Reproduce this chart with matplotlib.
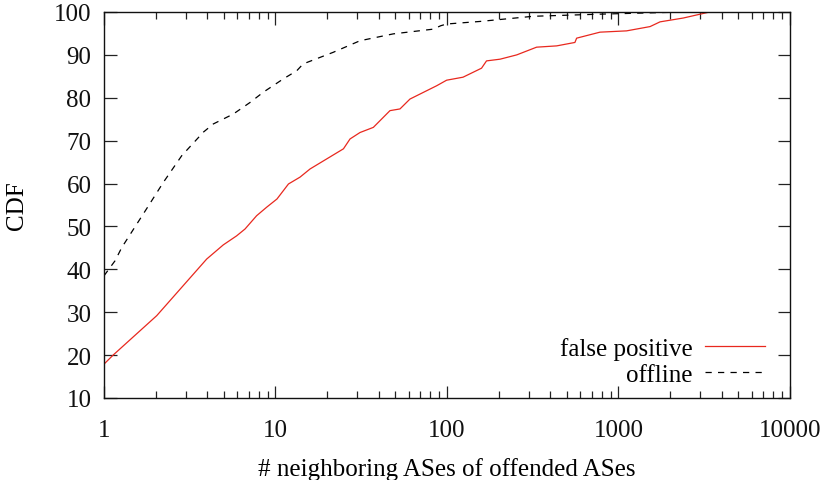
import matplotlib.pyplot as plt
from matplotlib.ticker import LogLocator, NullFormatter, FixedLocator

# CDF of neighboring ASes
fp_x = [1, 1.13, 2.03, 3.97, 4.96, 5.93, 6.64, 7.76, 8.89, 10.2, 11.9, 13.9,
        15.9, 24.9, 27.2, 31.1, 37.2, 46.5, 53.2, 60.8, 87, 99.5, 124, 159,
        170, 204, 255, 333, 436, 557, 570, 780, 1114, 1528, 1746, 2389, 3400]
fp_y = [17.9, 20.0, 29.2, 42.4, 45.7, 47.8, 49.4, 52.5, 54.5, 56.4, 59.9, 61.5,
        63.4, 68.1, 70.4, 71.9, 73.1, 77.0, 77.4, 79.7, 82.8, 84.1, 84.8, 86.9,
        88.6, 89.0, 90.0, 91.8, 92.1, 92.9, 93.9, 95.3, 95.6, 96.6, 97.7, 98.6, 100]

off_x = [1, 1.16, 1.27, 1.77, 2.22, 2.84, 3.80, 4.34, 5.67, 7.10, 8.49, 11.1,
         13.3, 14.5, 21.7, 31.1, 48.6, 83, 92, 99.5, 156, 318, 780, 1906, 3400]
off_y = [38.5, 42.0, 45.1, 54.1, 60.3, 66.5, 72.0, 73.9, 76.2, 78.9, 81.3, 84.4,
         86.3, 87.9, 90.6, 93.3, 94.9, 96.0, 96.8, 97.2, 97.8, 99.0, 99.5, 99.9, 100]

plt.rcParams['font.family'] = ['Liberation Serif', 'DejaVu Serif']
plt.rcParams['font.size'] = 18

fig = plt.figure(figsize=(8.28, 4.81), dpi=100)
ax = fig.add_axes([104/828, 1 - 399/481, 686/828, 386/481])

ax.plot(fp_x, fp_y, color='#e8281e', lw=0.9, label='false positive')
ax.plot(off_x, off_y, color='black', lw=0.9, dashes=(5, 5), label='offline')

ax.set_xscale('log')
ax.set_xlim(1, 10000)
ax.set_ylim(10, 100)
ax.xaxis.set_major_locator(FixedLocator([1, 10, 100, 1000, 10000]))
ax.set_xticklabels(['1', '10', '100', '1000', '10000'])
ax.xaxis.set_minor_locator(LogLocator(base=10, subs=range(2, 10)))
ax.xaxis.set_minor_formatter(NullFormatter())
ax.set_yticks(range(10, 101, 10))

ax.tick_params(which='both', direction='in', top=True, right=True,
               colors='#222222', labelcolor='#111111')
ax.tick_params(which='major', length=9, width=0.9)
ax.tick_params(which='minor', length=5, width=0.9)
ax.tick_params(axis='x', which='major', pad=15)
ax.tick_params(axis='y', which='major', pad=9)
for s in ax.spines.values():
    s.set_linewidth(1.0)
    s.set_color('#111111')

ax.set_xlabel('# neighboring ASes of offended ASes', labelpad=12)
ax.set_ylabel('CDF', labelpad=19)

# legend: text right-aligned, sample on the right (gnuplot style)
leg = ax.legend(loc='lower right', frameon=False, markerfirst=False,
                handlelength=2.4, handletextpad=0.5, labelspacing=0.15,
                borderaxespad=0, borderpad=0, bbox_to_anchor=(0.9636, 0.031))
for t in leg.get_texts():
    t.set_ha('right')

fig.savefig('out.png', dpi=100)
